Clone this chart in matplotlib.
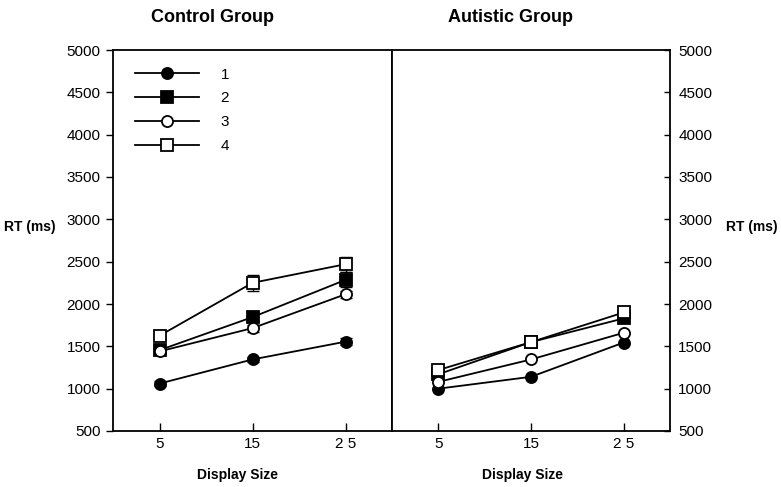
import numpy as np
import matplotlib
matplotlib.use("Agg")
import matplotlib.pyplot as plt

plt.rcParams['font.family'] = ['Liberation Sans', 'DejaVu Sans']

display_size = [5, 15, 25]
series_names = ['1', '2', '3', '4']

# control group RT (ms)
control_1 = [1060, 1345, 1555]
control_2 = [1455, 1845, 2285]
control_3 = [1440, 1715, 2115]
control_4 = [1625, 2250, 2470]
control_err_1 = [25, 30, 40]
control_err_2 = [30, 50, 90]
control_err_3 = [30, 40, 40]
control_err_4 = [40, 95, 90]

# autistic group RT (ms)
autistic_1 = [1000, 1140, 1545]
autistic_2 = [1170, 1550, 1830]
autistic_3 = [1080, 1345, 1660]
autistic_4 = [1220, 1550, 1900]

markers = ['o', 's', 'o', 's']
faces = ['black', 'black', 'white', 'white']

fig = plt.figure(figsize=(7.81, 4.87), dpi=100)
ax1 = fig.add_axes([113/781, 56/487, 279/781, 381/487])
ax2 = fig.add_axes([392/781, 56/487, 278/781, 381/487])

control = [control_1, control_2, control_3, control_4]
control_err = [control_err_1, control_err_2, control_err_3, control_err_4]
autistic = [autistic_1, autistic_2, autistic_3, autistic_4]

style = dict(color='black', mec='black', mew=1.3, ms=8, lw=1.3)
for i in range(4):
    ax1.errorbar(display_size, control[i], yerr=control_err[i], fmt='none',
                 ecolor='black', capsize=4, elinewidth=1)
    ax1.plot(display_size, control[i], marker=markers[i], mfc=faces[i],
             label=series_names[i], **style)
    ax2.plot(display_size, autistic[i], marker=markers[i], mfc=faces[i], **style)

for ax in (ax1, ax2):
    ax.set_xlim(0, 30)
    ax.set_ylim(500, 5000)
    ax.set_xticks(display_size)
    ax.set_xticklabels(['5', '15', '2 5'])
    ax.set_yticks(np.arange(500, 5001, 500))
    ax.tick_params(axis='x', direction='in', length=6, width=1, labelsize=11, pad=4)
    for s in ax.spines.values():
        s.set_linewidth(1.3)

ax1.tick_params(axis='y', direction='out', length=5, width=1, labelsize=11, pad=4)
ax2.yaxis.tick_right()
ax2.tick_params(axis='y', direction='in', length=4, width=1, labelsize=11, pad=6)

ax1.legend(loc='upper left', bbox_to_anchor=(0.03, 0.99), frameon=False,
           handlelength=4.2, fontsize=11, labelspacing=0.65, handletextpad=1.4)

fig.text(213/781, 1 - 18/487, 'Control Group', ha='center', va='center',
         fontsize=13, fontweight='bold')
fig.text(510/781, 1 - 18/487, 'Autistic Group', ha='center', va='center',
         fontsize=13, fontweight='bold')
fig.text(238/781, 1 - 475/487, 'Display Size', ha='center', va='center',
         fontsize=10, fontweight='bold')
fig.text(522/781, 1 - 475/487, 'Display Size', ha='center', va='center',
         fontsize=10, fontweight='bold')
fig.text(30/781, 1 - 227/487, 'RT (ms)', ha='center', va='center',
         fontsize=10, fontweight='bold')
fig.text(752/781, 1 - 227/487, 'RT (ms)', ha='center', va='center',
         fontsize=10, fontweight='bold')

fig.savefig('out.png', dpi=100)
